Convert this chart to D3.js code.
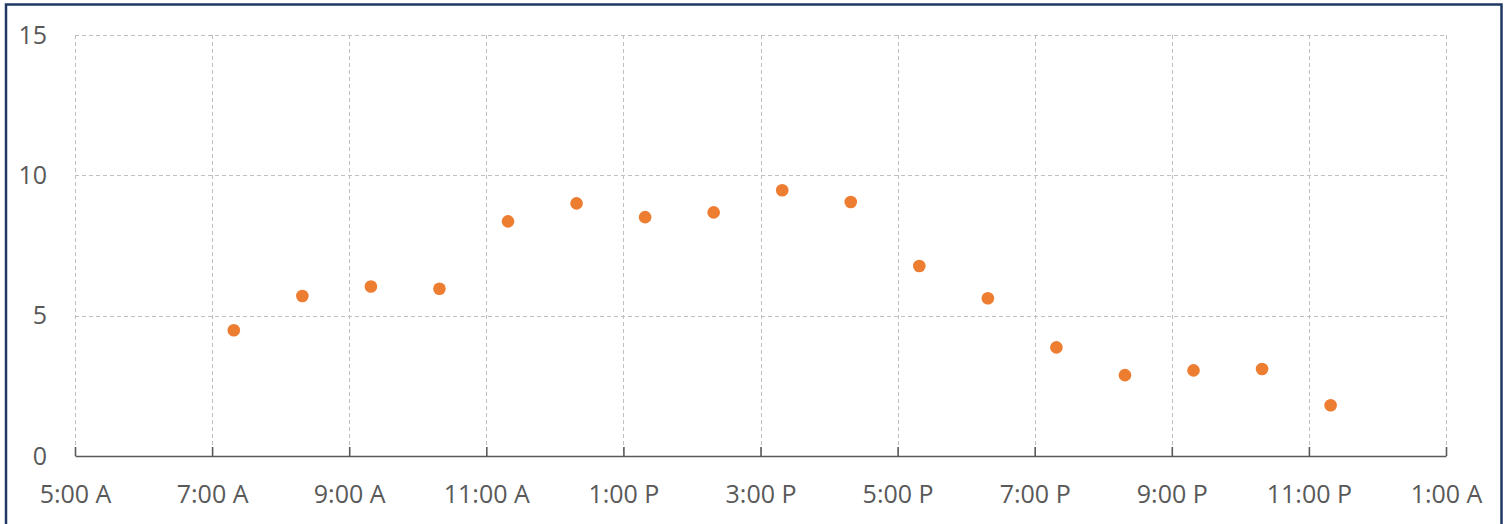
<!DOCTYPE html>
<html>
<head>
<meta charset="utf-8">
<script src="https://cdn.jsdelivr.net/npm/d3@7/dist/d3.min.js"></script>
<style>
  html, body { margin: 0; padding: 0; background: #fff; }
  svg { display: block; }
  text { font-family: "Open Sans", "Noto Sans", sans-serif; fill: #595959; }
</style>
</head>
<body>
<svg id="chart" width="1509" height="524"></svg>
<script>
// Hourly readings (time of day, value)
const times = ["07:19", "08:19", "09:19", "10:19", "11:19", "12:19", "13:19", "14:19",
               "15:19", "16:19", "17:19", "18:19", "19:19", "20:19", "21:19", "22:19", "23:19"];
const values = [4.48, 5.70, 6.04, 5.96, 8.36, 9.00, 8.51, 8.68,
                9.47, 9.05, 6.77, 5.62, 3.87, 2.88, 3.05, 3.10, 1.81];

// Axis ticks
const xTickTimes = ["05:00", "07:00", "09:00", "11:00", "13:00", "15:00", "17:00", "19:00", "21:00", "23:00", "25:00"];
const xTickLabels = ["5:00 A", "7:00 A", "9:00 A", "11:00 A", "1:00 P", "3:00 P", "5:00 P", "7:00 P", "9:00 P", "11:00 P", "1:00 A"];
const yTicks = [0, 5, 10, 15];

const toDate = s => {
  const [h, m] = s.split(":").map(Number);
  return new Date(2024, 0, 1, h, m);
};

const svg = d3.select("#chart");
const plot = { left: 75, right: 1446, top: 35, bottom: 456 };

const x = d3.scaleTime()
  .domain([toDate("05:00"), toDate("25:00")])
  .range([plot.left, plot.right]);
const y = d3.scaleLinear()
  .domain([0, 15])
  .range([plot.bottom, plot.top]);

// Outer frame
svg.append("rect")
  .attr("x", 6).attr("y", 4.5)
  .attr("width", 1495.5).attr("height", 540)
  .attr("fill", "none")
  .attr("stroke", "#1F3864")
  .attr("stroke-width", 2.5);

// Gridlines
const grid = svg.append("g").attr("stroke", "#BFBFBF").attr("stroke-width", 1)
  .attr("stroke-dasharray", "4,3").attr("fill", "none");
grid.selectAll("line.h").data(yTicks.filter(d => d > 0)).join("line")
  .attr("class", "h")
  .attr("x1", plot.left).attr("x2", plot.right)
  .attr("y1", d => Math.round(y(d)) + 0.5).attr("y2", d => Math.round(y(d)) + 0.5);
grid.selectAll("line.v").data(xTickTimes).join("line")
  .attr("class", "v")
  .attr("x1", d => Math.round(x(toDate(d))) + 0.5).attr("x2", d => Math.round(x(toDate(d))) + 0.5)
  .attr("y1", plot.top).attr("y2", plot.bottom);

// X axis with inward ticks
const xAxis = d3.axisBottom(x)
  .tickValues(xTickTimes.map(toDate))
  .tickSize(-9)
  .tickSizeOuter(0)
  .tickFormat((d, i) => xTickLabels[i]);
const gx = svg.append("g")
  .attr("transform", `translate(0,${plot.bottom})`)
  .call(xAxis);
gx.select(".domain").attr("stroke", "#595959").attr("stroke-width", 1.6);
gx.selectAll(".tick line").attr("stroke", "#595959").attr("stroke-width", 1.6);
gx.selectAll(".tick text")
  .attr("y", 47).attr("dy", null)
  .attr("font-size", 25)
  .attr("fill", "#595959")
  .style("font-family", "'Open Sans', 'Noto Sans', sans-serif");

// Y axis labels
const yAxis = d3.axisLeft(y).tickValues(yTicks).tickSize(0).tickFormat(d3.format("d"));
const gy = svg.append("g")
  .attr("transform", `translate(${plot.left},0)`)
  .call(yAxis);
gy.select(".domain").remove();
gy.selectAll(".tick text")
  .attr("x", -28).attr("dy", "0.32em")
  .attr("font-size", 25)
  .attr("fill", "#595959")
  .style("font-family", "'Open Sans', 'Noto Sans', sans-serif");

// Points
svg.append("g").selectAll("circle")
  .data(times.map((t, i) => ({ t: toDate(t), v: values[i] })))
  .join("circle")
  .attr("cx", d => x(d.t))
  .attr("cy", d => y(d.v))
  .attr("r", 6.3)
  .attr("fill", "#ED7D31");
</script>
</body>
</html>
